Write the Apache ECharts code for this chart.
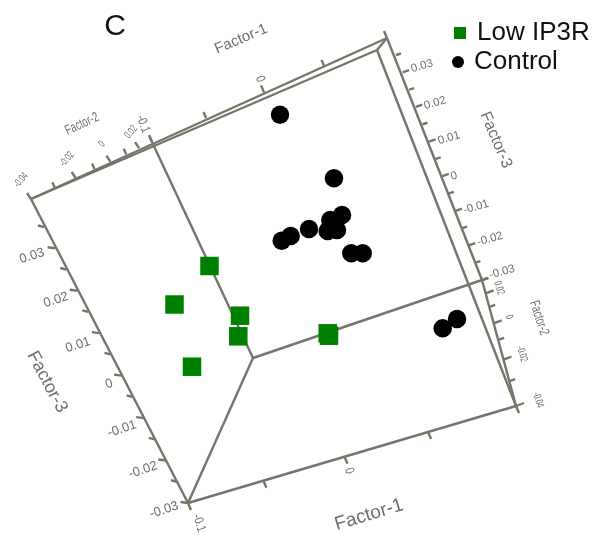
<!DOCTYPE html>
<html>
<head>
<meta charset="utf-8">
<style>html,body{margin:0;padding:0;background:#fff}#c{width:597px;height:535px}</style>
<script src="https://cdn.jsdelivr.net/npm/echarts@6/dist/echarts.min.js"></script>
</head>
<body>
<div id="c"></div>
<script>
// Points, in the projected plane of the 3-D plot
const lowIp3rX = [209.5, 174.5, 240, 238.3, 192, 327.7, 329];
const lowIp3rY = [266, 304.5, 315.7, 336.3, 366.7, 333.3, 335.7];
const controlX = [280, 281.7, 290.7, 334, 309, 342, 330.3, 327.7, 337, 351.3, 362.7, 457, 442.7];
const controlY = [114.7, 240.7, 236, 178.3, 229, 215, 220, 231, 230, 253.3, 253.3, 319, 328.3];

// Tick labels
const factor3Ticks = ['0.03', '0.02', '0.01', '0', '-0.01', '-0.02', '-0.03'];
const factor2Ticks = ['-0.04', '-0.02', '0', '0.02'];
const factor1Ticks = ['-0.1', '0'];

const AX = '#77746a', TXT = '#6e6e6e', FONT = '"Liberation Sans", Arial, sans-serif';

// Cube corners in the plane
const P = {
  a: [31, 199], b: [152, 142], c: [387, 38], cIn: [377, 50],
  d: [253, 358], e: [188, 503], f: [516, 406], g: [482, 280]
};
const lerp = (p, q, t) => [p[0] + (q[0] - p[0]) * t, p[1] + (q[1] - p[1]) * t];
const segs = [];
const seg = (p, q) => segs.push([p[0], p[1], q[0], q[1]]);
[['a','c'],['a','cIn'],['c','cIn'],['cIn','f'],['c','g'],['g','f'],['g','d'],
 ['d','b'],['d','e'],['e','a'],['e','f']].forEach(s => seg(P[s[0]], P[s[1]]));

function ticks(p, q, fracs, major, vMajor, vMinor) {
  fracs.forEach((t, i) => {
    const o = lerp(p, q, t), v = major(i) ? vMajor : vMinor;
    seg(o, [o[0] + v[0], o[1] + v[1]]);
  });
}
// Factor-3 (11 half steps plus the top one)
const f3 = [0, 1, 2, 3, 4, 5, 6, 7, 8, 9, 10, 11, 12, 13].map(i => i);
const f3Frac = i => i / 13;
ticks([44, 227], [188, 503], f3.slice(0, 14).map(f3Frac), i => i % 2 === 1, [-7.5, -1], [-6, -1.5]);
ticks([396, 55], [482, 280], f3.slice(0, 14).map(f3Frac), i => i % 2 === 1, [6.5, -2.2], [5, -1.5]);
// Factor-2 (perspective spacing)
const f2Frac = [0, .197, .369, .525, .656, .787, .893, 1];
ticks(P.a, P.b, f2Frac, i => i % 2 === 0, [-4, -6], [-2.5, -5.5]);
ticks(P.f, P.g, f2Frac, i => i % 2 === 0, [8, -3], [6, -2]);
// Factor-1
const f1Frac = [0, .23, .477, .732, 1];
ticks(P.b, P.c, f1Frac, i => i % 2 === 0, [-3, -7], [-2.5, -6]);
ticks(P.e, P.f, f1Frac, i => i % 2 === 0, [3, 7], [3, 7]);

// Rotated texts: text, x, y, degrees, size, x-scale
const texts = [
  ['Factor-1', 241, 39, 23, 15, 1],
  ['Factor-1', 369, 515, 17, 19, 1],
  ['Factor-3', 47, 382, -62, 18, 1],
  ['Factor-3', 496, 140, -67, 16, 1],
  ['Factor-2', 82, 124, 25, 14, .68],
  ['Factor-2', 539, 318, -72, 14, .68]
];
const f3L = [[32,256],[56,300],[78,345],[109,384],[122,429],[143,470],[164,510]];
factor3Ticks.forEach((t, i) => texts.push([t, f3L[i][0], f3L[i][1], 18, 13, 1]));
const f3R = [[422,66],[435,103],[449,138],[454,176],[476,207],[490,239],[502,272]];
factor3Ticks.forEach((t, i) => texts.push([t, f3R[i][0], f3R[i][1], 16, 11.5, 1]));
const f2T = [[21,180],[67,159],[102,144],[131,132]];
factor2Ticks.forEach((t, i) => texts.push([t, f2T[i][0], f2T[i][1], 50, 11, .62]));
const f2R = [[538,400],[522,354],[509,317],[499,288]];
factor2Ticks.forEach((t, i) => texts.push([t, f2R[i][0], f2R[i][1], -72, 11, .62]));
const f1T = [[143,124],[260,79]];
factor1Ticks.forEach((t, i) => texts.push([t, f1T[i][0], f1T[i][1], -70, 13, .8]));
const f1B = [[199,523],[349,471]];
factor1Ticks.forEach((t, i) => texts.push([t, f1B[i][0], f1B[i][1], -72, 13, .8]));
texts.push(['C', 115, 27, 0, 30, 1, '#111']);

const zip = (xs, ys) => xs.map((x, i) => [x, ys[i]]);
const chart = echarts.init(document.getElementById('c'), null, { renderer: 'canvas' });
chart.setOption({
  animation: false,
  backgroundColor: '#fff',
  grid: { left: 0, right: 0, top: 0, bottom: 0 },
  xAxis: { type: 'value', min: 0, max: 597, show: false },
  yAxis: { type: 'value', min: 0, max: 535, inverse: true, show: false },
  legend: [
    { data: ['Low IP3R'], left: 454, top: 20, itemWidth: 12, itemHeight: 12, padding: 0,
      textStyle: { fontSize: 26, color: '#111', fontFamily: FONT, padding: [0, 0, 0, 6] } },
    { data: ['Control'], left: 452, top: 49, itemWidth: 12, itemHeight: 12, padding: 0,
      textStyle: { fontSize: 26, color: '#111', fontFamily: FONT, padding: [0, 0, 0, 5] } }
  ],
  series: [
    { type: 'custom', silent: true, z: 1, coordinateSystem: 'cartesian2d',
      data: segs, encode: { x: [0, 2], y: [1, 3] },
      renderItem: (p, api) => {
        const s = api.coord([api.value(0), api.value(1)]), e = api.coord([api.value(2), api.value(3)]);
        return { type: 'line', shape: { x1: s[0], y1: s[1], x2: e[0], y2: e[1] },
                 style: { stroke: AX, lineWidth: 2.4, lineCap: 'butt' } };
      } },
    { type: 'custom', silent: true, z: 2, coordinateSystem: 'cartesian2d',
      data: texts.map(t => [t[1], t[2]]), encode: { x: 0, y: 1 },
      renderItem: (p, api) => {
        const t = texts[p.dataIndex], c = api.coord([api.value(0), api.value(1)]);
        return { type: 'text', x: c[0], y: c[1], rotation: t[3] * Math.PI / 180, scaleX: t[5],
                 style: { text: t[0], fontSize: t[4], fontFamily: FONT, fill: t[6] || TXT,
                          align: 'center', verticalAlign: 'middle' } };
      } },
    { name: 'Low IP3R', type: 'scatter', z: 3, symbol: 'rect', symbolSize: 18.5,
      itemStyle: { color: '#008000', opacity: 1 }, data: zip(lowIp3rX, lowIp3rY) },
    { name: 'Control', type: 'scatter', z: 4, symbol: 'circle', symbolSize: 18.5,
      itemStyle: { color: '#000', opacity: 1 }, data: zip(controlX, controlY) }
  ]
});
</script>
</body>
</html>
